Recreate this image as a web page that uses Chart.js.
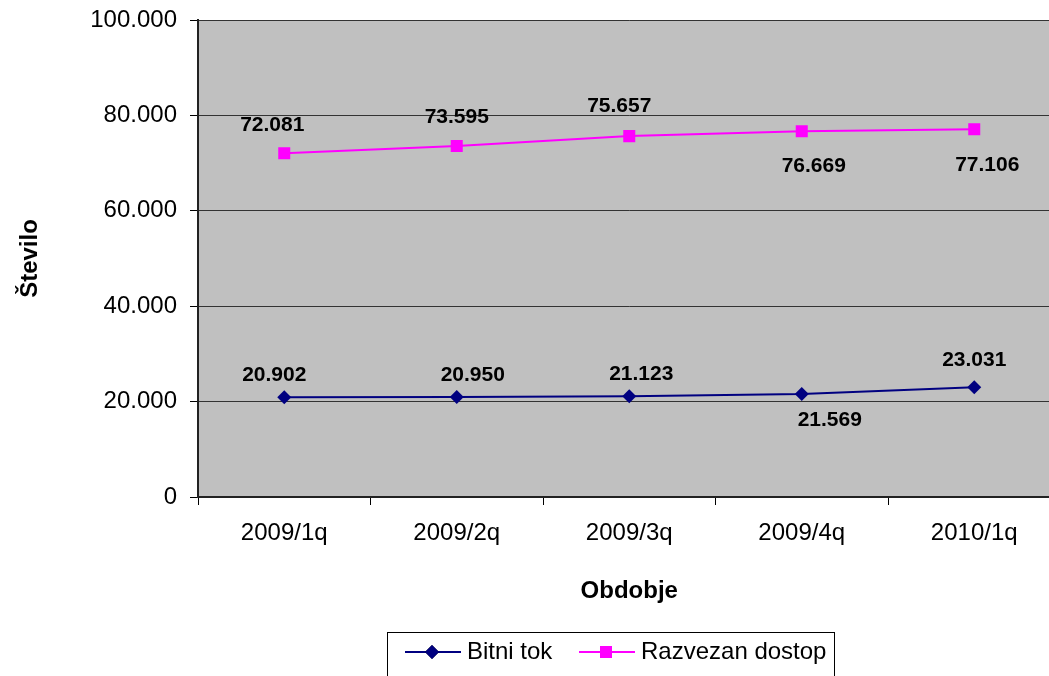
<!DOCTYPE html>
<html>
<head>
<meta charset="utf-8">
<script src="https://cdn.jsdelivr.net/npm/chart.js@4/dist/chart.umd.min.js"></script>
<style>
    html, body { margin: 0; padding: 0; background: #fff; overflow: hidden; }
    #wrap { width: 1069px; height: 676px; }
</style>
</head>
<body>
<div id="wrap"><canvas id="chart" width="1069" height="676"></canvas></div>
<script>
const periods = ["2009/1q", "2009/2q", "2009/3q", "2009/4q", "2010/1q"];
const bitniTok = [20902, 20950, 21123, 21569, 23031];
const razvezanDostop = [72081, 73595, 75657, 76669, 77106];
const yTicks = [0, 20000, 40000, 60000, 80000, 100000];

const FONT = "'Liberation Sans', Arial, sans-serif";

// where each value label sits relative to its point
const labelOffsets = [
    [[-10, -22], [16, -22], [12, -22], [28, 26], [0, -27]],
    [[-12, -28], [0, -29], [-10, -30], [12, 35], [13, 36]]
];

function fmt(v) {
    return String(v).replace(/\B(?=(\d{3})+(?!\d))/g, ".");
}

const plotBackground = {
    id: "plotBackground",
    beforeDraw(chart) {
        const { ctx, chartArea } = chart;
        ctx.save();
        ctx.fillStyle = "#C0C0C0";
        ctx.fillRect(chartArea.left, chartArea.top,
            chartArea.right - chartArea.left, chartArea.bottom - chartArea.top);
        ctx.restore();
    }
};

const valueLabels = {
    id: "valueLabels",
    afterDatasetsDraw(chart) {
        const ctx = chart.ctx;
        ctx.save();
        ctx.font = "bold 21px " + FONT;
        ctx.fillStyle = "#000";
        ctx.textAlign = "center";
        ctx.textBaseline = "middle";
        chart.data.datasets.forEach((ds, i) => {
            const meta = chart.getDatasetMeta(i);
            meta.data.forEach((pt, j) => {
                const off = labelOffsets[i][j];
                ctx.fillText(fmt(ds.data[j]), pt.x + off[0], pt.y + off[1]);
            });
        });
        ctx.restore();
    }
};

const boxLegend = {
    id: "boxLegend",
    afterDraw(chart) {
        const ctx = chart.ctx;
        ctx.save();
        ctx.strokeStyle = "#000";
        ctx.lineWidth = 1;
        ctx.strokeRect(387.5, 632.5, 447, 60);

        const items = [
            { x: 405, ds: chart.data.datasets[0] },
            { x: 579, ds: chart.data.datasets[1] }
        ];
        const y = 652;
        items.forEach(it => {
            ctx.strokeStyle = it.ds.borderColor;
            ctx.lineWidth = 2;
            ctx.beginPath();
            ctx.moveTo(it.x, y);
            ctx.lineTo(it.x + 56, y);
            ctx.stroke();
            Chart.helpers.drawPoint(ctx, {
                pointStyle: it.ds.pointStyle,
                radius: it.ds.pointRadius,
                rotation: 0,
                borderWidth: 0
            }, it.x + 27, y);
            ctx.fillStyle = it.ds.backgroundColor;
            ctx.fill();
            ctx.fillStyle = "#000";
            ctx.font = "24px " + FONT;
            ctx.textAlign = "left";
            ctx.textBaseline = "middle";
            ctx.fillText(it.ds.label, it.x + 62, y);
        });
        ctx.restore();
    }
};

new Chart(document.getElementById("chart").getContext("2d"), {
    type: "line",
    data: {
        labels: periods,
        datasets: [
            {
                label: "Bitni tok",
                data: bitniTok,
                borderColor: "#000080",
                backgroundColor: "#000080",
                borderWidth: 2,
                pointStyle: "rectRot",
                pointRadius: 7,
                pointBorderWidth: 0,
                tension: 0
            },
            {
                label: "Razvezan dostop",
                data: razvezanDostop,
                borderColor: "#FF00FF",
                backgroundColor: "#FF00FF",
                borderWidth: 2,
                pointStyle: "rect",
                pointRadius: 8.5,
                pointBorderWidth: 0,
                tension: 0
            }
        ]
    },
    options: {
        responsive: false,
        animation: false,
        devicePixelRatio: 1,
        layout: { padding: { top: 20, right: 0, left: 0, bottom: 60 } },
        plugins: {
            legend: { display: false },
            tooltip: { enabled: false }
        },
        scales: {
            x: {
                offset: true,
                grid: {
                    offset: true,
                    drawOnChartArea: false,
                    drawTicks: true,
                    tickLength: 8,
                    color: "#000"
                },
                border: { color: "#222", width: 2 },
                ticks: {
                    color: "#000",
                    font: { family: FONT, size: 24 },
                    padding: 14,
                    maxRotation: 0
                },
                title: {
                    display: true,
                    text: "Obdobje",
                    color: "#000",
                    font: { family: FONT, size: 24, weight: "bold" },
                    padding: { top: 0, bottom: 10 }
                },
                afterFit(scale) {
                    scale.height = 119;
                    scale.paddingLeft = 0;
                    scale.paddingRight = 0;
                }
            },
            y: {
                min: 0,
                max: 100000,
                afterBuildTicks(scale) {
                    scale.ticks = yTicks.map(v => ({ value: v }));
                },
                grid: {
                    color: "#333",
                    lineWidth: 1,
                    tickLength: 8,
                    tickColor: "#000"
                },
                border: { color: "#222", width: 2 },
                ticks: {
                    color: "#000",
                    font: { family: FONT, size: 24 },
                    padding: 13,
                    callback: v => fmt(v)
                },
                title: {
                    display: true,
                    text: "Število",
                    color: "#000",
                    font: { family: FONT, size: 24, weight: "bold" },
                    padding: { top: 16, bottom: 0 }
                },
                afterFit(scale) {
                    scale.width = 198;
                    scale.paddingTop = 0;
                    scale.paddingBottom = 0;
                }
            }
        }
    },
    plugins: [plotBackground, valueLabels, boxLegend]
});
</script>
</body>
</html>
